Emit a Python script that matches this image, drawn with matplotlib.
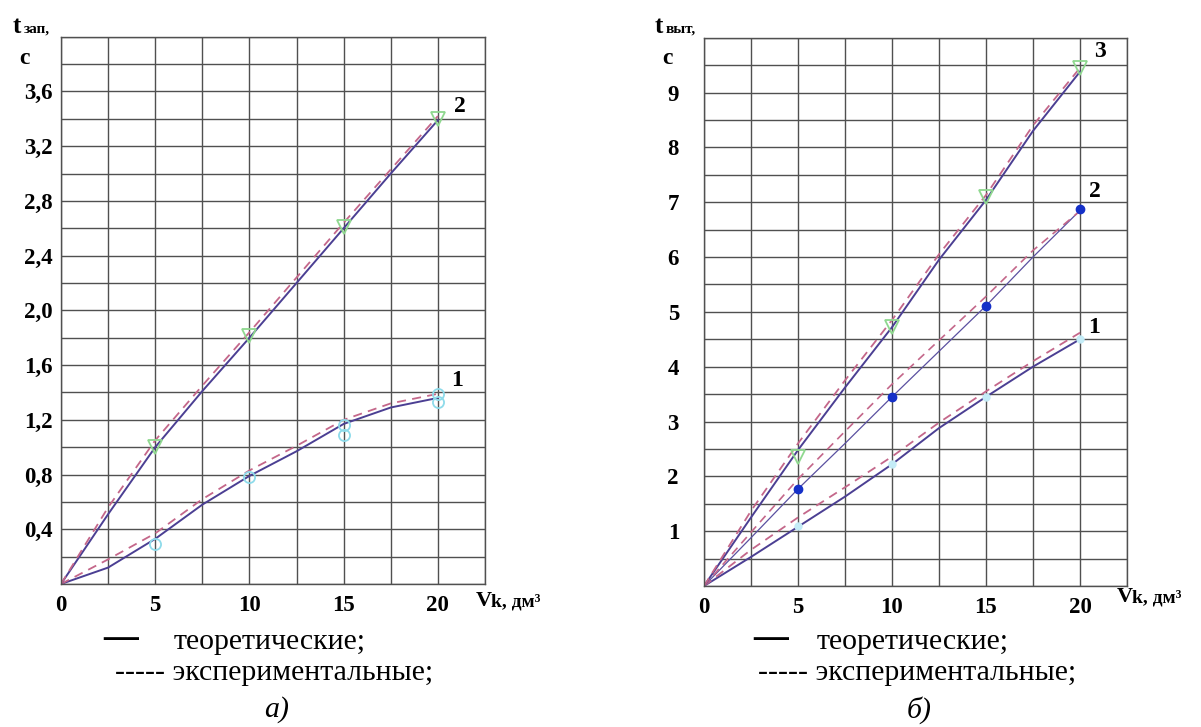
import matplotlib.pyplot as plt
import numpy as np

# --- data ---------------------------------------------------------------
v_grid = [0, 2.5, 5, 7.5, 10, 12.5, 15, 17.5, 20]

# a) t зап
theo1_a = [0, 0.12, 0.33, 0.58, 0.79, 0.97, 1.17, 1.29, 1.36]
exp1_a = [0, 0.18, 0.37, 0.62, 0.83, 1.01, 1.20, 1.32, 1.39]
theo2_a = [0, 0.51, 1.0, 1.41, 1.80, 2.20, 2.60, 3.00, 3.39]
exp2_a = [0, 0.56, 1.05, 1.45, 1.84, 2.24, 2.64, 3.03, 3.42]
pts1_a_x = [5, 10, 15, 15, 20, 20]
pts1_a_y = [0.29, 0.78, 1.09, 1.16, 1.33, 1.39]
pts2_a_x = [5, 10, 15, 20]
pts2_a_y = [1.0, 1.81, 2.61, 3.40]

# б) t выт
theo1_b = [0, 0.53, 1.08, 1.63, 2.22, 2.88, 3.45, 4.0, 4.5]
exp1_b = [0, 0.66, 1.25, 1.80, 2.36, 2.98, 3.55, 4.10, 4.62]
theo2_b = [0, 0.88, 1.77, 2.60, 3.45, 4.28, 5.11, 6.0, 6.85]
exp2_b = [0, 0.98, 1.95, 2.82, 3.68, 4.48, 5.28, 6.12, 6.84]
theo3_b = [0, 1.25, 2.48, 3.62, 4.72, 5.95, 7.04, 8.30, 9.38]
exp3_b = [0, 1.37, 2.60, 3.75, 4.85, 6.05, 7.13, 8.40, 9.45]
pts_b_x = [5, 10, 15, 20]
pts1_b_y = [1.10, 2.22, 3.45, 4.50]
pts2_b_y = [1.77, 3.45, 5.11, 6.88]
pts3_b_y = [2.36, 4.72, 7.10, 9.45]

x_labels = ['0', '', '5', '', '10', '', '15', '', '20', '']

W, H = 1201, 727
SERIF = 'Liberation Serif'
C_THEO = '#4b3f93'
C_EXP = '#c4678a'
C_GRID = '#505050'


def px(x, y):
    return x / W, 1 - y / H


def style_axes(ax, xmax, ymax, ystep, ylabels, ypad):
    ax.set_xlim(0, xmax)
    ax.set_ylim(0, ymax)
    ax.set_xticks(np.arange(0, xmax + 0.01, 2.5))
    ax.set_xticklabels(x_labels)
    yt = np.arange(0, ymax + 0.001, ystep)
    ax.set_yticks(yt)
    ax.set_yticklabels(ylabels)
    ax.grid(True, color=C_GRID, lw=1.0)
    ax.set_axisbelow(True)
    for s in ax.spines.values():
        s.set_color(C_GRID)
        s.set_linewidth(1.0)
    ax.tick_params(length=0, labelsize=16.5)
    ax.tick_params(axis='x', pad=8)
    ax.tick_params(axis='y', pad=ypad)
    for lab in ax.get_xticklabels() + ax.get_yticklabels():
        lab.set_fontfamily(SERIF)
        lab.set_fontweight('bold')


fig = plt.figure(figsize=(W / 100, H / 100), dpi=100)

# ---------------- a) ----------------
ax1 = fig.add_axes([61 / W, 1 - 584 / H, (485 - 61) / W, (584 - 36.7) / H])
ylab_a = []
for v in np.arange(0, 4.001, 0.2):
    k = int(round(v * 10))
    if k % 4 == 0 and 0 < k < 37:
        ylab_a.append(f"{v:.1f}".replace('.', ','))
    else:
        ylab_a.append('')
style_axes(ax1, 22.5, 4.0, 0.2, ylab_a, 6)

ax1.plot(v_grid, theo1_a, color=C_THEO, lw=1.4)
ax1.plot(v_grid, exp1_a, color=C_EXP, lw=1.3, ls=(0, (5, 3.5)))
ax1.plot(v_grid, theo2_a, color=C_THEO, lw=1.4)
ax1.plot(v_grid, exp2_a, color=C_EXP, lw=1.3, ls=(0, (5, 3.5)))
ax1.plot(pts1_a_x, pts1_a_y, 'o', ms=8, mfc='none', mec='#8edbea', mew=1.3)
ax1.plot(pts2_a_x, pts2_a_y, 'v', ms=10, mfc='none', mec='#8fd88f', mew=1.3)
ax1.text(21.0, 1.49, '1', fontsize=17, fontweight='bold', family=SERIF,
         ha='center', va='center')
ax1.text(21.18, 3.49, '2', fontsize=17, fontweight='bold', family=SERIF,
         ha='center', va='center')

# ---------------- б) ----------------
ax2 = fig.add_axes([704 / W, 1 - 586 / H, (1127 - 704) / W, (586 - 37.7) / H])
ylab_b = []
for v in np.arange(0, 10.001, 0.5):
    if v == int(v) and 0 < v < 10:
        ylab_b.append(str(int(v)))
    else:
        ylab_b.append('')
style_axes(ax2, 22.5, 10.0, 0.5, ylab_b, 18)

ax2.plot(v_grid, theo1_b, color=C_THEO, lw=1.4)
ax2.plot(v_grid, exp1_b, color=C_EXP, lw=1.3, ls=(0, (5, 3.5)))
ax2.plot(v_grid, theo2_b, color='#5a50a0', lw=0.9)
ax2.plot(v_grid, exp2_b, color=C_EXP, lw=1.2, ls=(0, (5, 3.5)))
ax2.plot(v_grid, theo3_b, color=C_THEO, lw=1.4)
ax2.plot(v_grid, exp3_b, color=C_EXP, lw=1.3, ls=(0, (5, 3.5)))
ax2.plot(pts_b_x, pts1_b_y, 'o', ms=5, color='#c4ecf7')
ax2.plot(pts_b_x, pts2_b_y, 'o', ms=6, color='#1530c8')
ax2.plot(pts_b_x, pts3_b_y, 'v', ms=10, mfc='none', mec='#8fd88f', mew=1.3)
ax2.text(20.77, 4.71, '1', fontsize=17, fontweight='bold', family=SERIF,
         ha='center', va='center')
ax2.text(20.77, 7.19, '2', fontsize=17, fontweight='bold', family=SERIF,
         ha='center', va='center')
ax2.text(21.06, 9.74, '3', fontsize=17, fontweight='bold', family=SERIF,
         ha='center', va='center')

# ---------------- axis captions ----------------
bold = dict(family=SERIF, fontweight='bold')
for x0, sub in [(13, 'зап,'), (655, 'выт,')]:
    fig.text(*px(x0, 33), 't', fontsize=18, va='baseline', **bold)
    fig.text(*px(x0 + 11, 33), sub, fontsize=11, va='baseline', **bold)
fig.text(*px(24, 58), 'с', fontsize=17, ha='center', va='center', **bold)
fig.text(*px(667, 58), 'с', fontsize=17, ha='center', va='center', **bold)

for x0, yc in [(476, 601), (1117, 597)]:
    fig.text(*px(x0, yc), 'V', fontsize=16, va='center', **bold)
    fig.text(*px(x0 + 15, yc + 1), 'k, дм³', fontsize=14, va='center', **bold)

# ---------------- legend text ----------------
for x_dash, x_theo, x_mid, sub in [(103, 174, 274.5, 'а)'), (753, 817, 917.5, 'б)')]:
    fig.text(*px(x_dash, 638), '—', fontsize=25, family=SERIF,
             fontweight='bold', va='center')
    fig.text(*px(x_theo, 642), 'теоретические;', fontsize=21.5, family=SERIF,
             va='center')
    fig.text(*px(x_mid, 673), '----- экспериментальные;', fontsize=21.5,
             family=SERIF, ha='center', va='center')
    fig.text(*px(x_mid + 2, 710), sub, fontsize=21.5, family=SERIF,
             style='italic', ha='center', va='center')

fig.savefig('out.png', dpi=100)
